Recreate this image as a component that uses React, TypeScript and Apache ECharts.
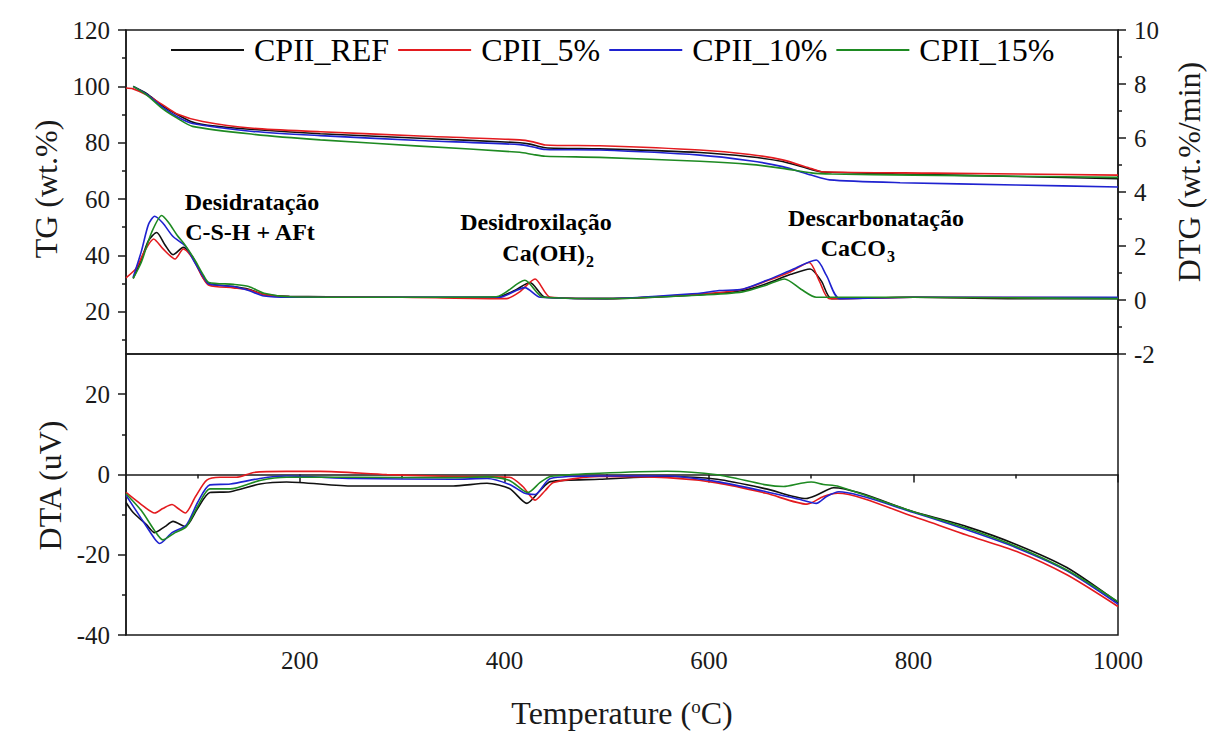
import React, { useEffect, useRef } from "react";
import * as echarts from "echarts";

const FONT = '"Liberation Serif", "Times New Roman", serif';

const seriesNames = ["CPII_REF", "CPII_5%", "CPII_10%", "CPII_15%"];
const seriesColors = ["#111111", "#e31b1f", "#1f22d0", "#1e8a22"];

// TG (wt.%) — [temperature °C, value]
const tgRef = [[37,100],[50,97.5],[66,93],[80,90],[95,87.3],[110,86.2],[154,84.7],[220,83.2],[317,81.6],[415,80],[425,79.5],[440,78.2],[493,77.8],[591,76.5],[640,75],[672,73.3],[700,70.5],[712,69.6],[800,68.8],[900,68.0],[1000,67.2]];
const tg5 = [[30,99.4],[37,99.1],[50,97],[66,93.4],[80,90.2],[105,87.5],[154,85.1],[220,83.9],[317,82.4],[415,81],[428,80.3],[440,79.2],[493,78.9],[591,77.4],[640,75.8],[672,73.9],[700,70.8],[710,69.7],[819,69.2],[1000,68.5]];
const tg10 = [[37,100],[50,97.2],[66,92.5],[80,89.2],[95,86.8],[154,84],[220,82.5],[317,80.8],[415,79.3],[428,78.5],[440,77.6],[493,77.4],[591,75.6],[640,73.6],[672,71.5],[700,68.5],[718,66.8],[787,65.8],[900,65],[1000,64.3]];
const tg15 = [[37,100],[50,97],[66,92],[80,88.7],[95,85.8],[154,83],[220,81],[317,78.8],[415,76.6],[428,75.8],[440,75.2],[493,74.8],[591,73.4],[640,72.3],[672,70.9],[700,69.3],[720,68.9],[800,68.5],[900,68.1],[1000,67.7]];

// DTG (wt.%/min)
const dtgRef = [[37,0.8],[45,1.5],[52,2.2],[60,2.5],[68,2.05],[76,1.68],[86,1.95],[95,1.6],[105,0.85],[111,0.6],[135,0.5],[150,0.4],[165,0.2],[190,0.14],[300,0.1],[392,0.1],[410,0.35],[425,0.65],[440,0.1],[500,0.05],[591,0.2],[633,0.35],[656,0.6],[680,0.95],[699,1.15],[710,0.7],[720,0.05],[800,0.1],[900,0.05],[1000,0.05]];
const dtg5 = [[30,0.82],[40,1.18],[48,1.8],[57,2.26],[66,1.9],[78,1.52],[86,1.89],[95,1.55],[105,0.84],[111,0.55],[135,0.45],[150,0.38],[165,0.2],[190,0.12],[300,0.1],[402,0.05],[415,0.3],[430,0.78],[445,0.1],[500,0.05],[591,0.22],[633,0.4],[656,0.7],[680,1.05],[698,1.39],[708,0.7],[718,0.05],[800,0.1],[1000,0.08]];
const dtg10 = [[37,0.84],[45,1.8],[52,2.8],[58,3.1],[66,2.85],[76,2.35],[88,2.0],[97,1.4],[106,0.84],[111,0.59],[135,0.5],[150,0.35],[165,0.15],[190,0.1],[300,0.1],[395,0.1],[420,0.46],[435,0.1],[500,0.05],[591,0.25],[610,0.35],[633,0.4],[656,0.72],[680,1.1],[705,1.48],[715,0.9],[728,0.05],[800,0.1],[1000,0.1]];
const dtg15 = [[37,0.8],[45,1.4],[55,2.5],[65,3.13],[72,2.85],[80,2.4],[88,2.02],[97,1.5],[106,0.9],[111,0.65],[135,0.58],[150,0.5],[165,0.25],[190,0.12],[300,0.1],[392,0.12],[420,0.73],[438,0.1],[500,0.05],[591,0.18],[633,0.3],[656,0.55],[674,0.78],[690,0.4],[705,0.1],[800,0.1],[1000,0.05]];

// DTA (uV)
const dtaRef = [[30,-7],[37,-9.5],[50,-12.5],[58,-14.5],[68,-13],[76,-11.7],[88,-13],[100,-8.5],[112,-4.5],[132,-4.3],[161,-2.4],[187,-1.9],[252,-2.9],[350,-2.9],[383,-2.2],[405,-3.5],[422,-7.2],[435,-4],[445,-1.8],[493,-1.2],[559,-0.5],[608,-1.2],[656,-3.6],[695,-6.0],[705,-5.2],[722,-3.3],[800,-9.3],[852,-13],[901,-17.5],[950,-23.2],[1000,-31.9]];
const dta5 = [[30,-4.5],[45,-7.5],[58,-9.6],[66,-8.5],[75,-7.5],[81,-8.5],[88,-9.6],[98,-5.5],[109,-1.4],[122,-0.7],[138,-0.7],[155,0.5],[187,0.76],[220,0.76],[285,-0.05],[350,-0.5],[405,-0.7],[418,-3],[430,-6.4],[440,-4],[448,-2],[493,-0.5],[559,-0.8],[608,-2.1],[656,-4.7],[696,-7.4],[712,-5.5],[726,-4.7],[800,-10.5],[852,-15.1],[901,-19.2],[950,-25],[1000,-32.9]];
const dta10 = [[30,-5.2],[45,-11],[58,-16],[63,-17.2],[75,-14.5],[89,-12.6],[100,-7],[112,-2.6],[132,-2.4],[161,-1.0],[187,-0.4],[252,-1.0],[350,-1.2],[383,-1.0],[405,-2.5],[420,-4.7],[430,-5.0],[445,-1],[493,-0.4],[559,-0.4],[608,-1.8],[656,-4.3],[690,-6.3],[705,-7.2],[715,-5.5],[727,-4.3],[800,-9.5],[852,-13.8],[901,-18.3],[950,-24],[1000,-32.3]];
const dta15 = [[30,-4.8],[45,-9],[58,-14],[66,-16.3],[78,-14.5],[89,-13],[100,-8],[112,-3.6],[132,-3.6],[161,-1.5],[187,-0.7],[252,-0.7],[350,-0.8],[383,-0.6],[405,-1.5],[423,-4.5],[435,-2],[445,-0.5],[493,0.3],[559,0.8],[608,-0.1],[656,-2.6],[673,-3.0],[690,-2.2],[700,-1.9],[712,-2.5],[727,-3.0],[800,-9.3],[852,-13.4],[901,-18],[950,-23.8],[1000,-31.7]];

const tgData = [tgRef, tg5, tg10, tg15];
const dtgData = [dtgRef, dtg5, dtg10, dtg15];
const dtaData = [dtaRef, dta5, dta10, dta15];

const xMajor = [200, 400, 600, 800, 1000];
const xMinor = [100, 300, 500, 700, 900];
const tgMajor = [20, 40, 60, 80, 100, 120];
const tgMinor = [10, 30, 50, 70, 90, 110];
const dtaMajor = [-40, -20, 0, 20];
const dtaMinor = [-30, -10, 10];

const AX = "#1a1a1a";
const plain = (v: number) => String(v);
const labelStyle = { color: AX, fontSize: 25, fontFamily: FONT, formatter: plain };
const nameStyle = { color: AX, fontSize: 32, fontFamily: FONT };

function minorAxis(gridIndex: number, position: string, min: number, max: number, values: number[]) {
  return {
    type: "value",
    gridIndex,
    position,
    min,
    max,
    axisLine: { show: false },
    axisLabel: { show: false },
    splitLine: { show: false },
    axisTick: { show: true, customValues: values, length: 4, lineStyle: { color: AX, width: 1.5 } },
  };
}

export default function App() {
  const ref = useRef<HTMLDivElement>(null);
  useEffect(() => {
    if (!ref.current) return;
    const chart = echarts.init(ref.current, null, { renderer: "svg" });
    const series: any[] = [];
    seriesNames.forEach((name, i) => {
      const common = {
        name,
        type: "line",
        showSymbol: false,
        symbol: "none",
        smooth: 0.25,
        lineStyle: { color: seriesColors[i], width: 1.6 },
        itemStyle: { color: seriesColors[i] },
      };
      series.push({ ...common, xAxisIndex: 0, yAxisIndex: 0, data: tgData[i] });
      series.push({ ...common, xAxisIndex: 0, yAxisIndex: 2, data: dtgData[i] });
      series.push({ ...common, xAxisIndex: 1, yAxisIndex: 3, data: dtaData[i] });
    });

    const boldText = (text: string, x: number, y: number, align = "center", size = 24) => ({
      type: "text",
      x,
      y,
      style: {
        text,
        fill: "#000",
        font: `bold ${size}px ${FONT}`,
        align,
        verticalAlign: "middle",
      },
    });

    chart.setOption({
      animation: false,
      backgroundColor: "#ffffff",
      legend: {
        data: seriesNames,
        left: 171,
        top: 34,
        icon: "rect",
        itemWidth: 73,
        itemHeight: 2,
        itemGap: 9,
        padding: 0,
        textStyle: { color: "#000", fontSize: 32, fontFamily: FONT, padding: [0, 0, 0, 5] },
      },
      grid: [
        { left: 126, top: 30, width: 992, height: 324, show: true, borderColor: AX, borderWidth: 1.5, containLabel: false },
        { left: 126, top: 354, width: 992, height: 281, show: true, borderColor: AX, borderWidth: 1.5, containLabel: false },
      ],
      xAxis: [
        {
          type: "value", gridIndex: 0, min: 30, max: 1000,
          axisLine: { show: false }, axisTick: { show: false }, axisLabel: { show: false }, splitLine: { show: false },
        },
        {
          type: "value", gridIndex: 1, position: "bottom", min: 30, max: 1000,
          axisLine: { show: true, lineStyle: { color: AX, width: 1.5 } },
          axisTick: { show: true, customValues: xMajor, length: 8, lineStyle: { color: AX, width: 1.5 } },
          axisLabel: { customValues: xMajor, margin: 13, ...labelStyle },
          splitLine: { show: false },
          name: "Temperature ({sup|o}C)",
          nameLocation: "middle",
          nameGap: 62,
          nameTextStyle: { ...nameStyle, rich: { sup: { fontSize: 19, fontFamily: FONT, color: AX, verticalAlign: "top" } } },
        },
        minorAxis(1, "bottom", 30, 1000, xMinor),
      ],
      yAxis: [
        {
          type: "value", gridIndex: 0, position: "left", min: 5, max: 120,
          axisLine: { show: true, lineStyle: { color: AX, width: 1.5 } },
          axisTick: { show: true, customValues: tgMajor, length: 8, lineStyle: { color: AX, width: 1.5 } },
          axisLabel: { customValues: tgMajor, margin: 16, ...labelStyle },
          splitLine: { show: false },
          name: "TG (wt.%)", nameLocation: "middle", nameRotate: 90, nameGap: 57,
          nameTextStyle: { ...nameStyle, padding: [0, 0, 0, 6] },
        },
        minorAxis(0, "left", 5, 120, tgMinor),
        {
          type: "value", gridIndex: 0, position: "right", min: -2, max: 10, interval: 2,
          axisLine: { show: true, lineStyle: { color: AX, width: 1.5 } },
          axisTick: { show: true, length: 8, lineStyle: { color: AX, width: 1.5 } },
          minorTick: { show: true, splitNumber: 2, length: 4, lineStyle: { color: AX, width: 1.5 } },
          axisLabel: { margin: 16, ...labelStyle },
          splitLine: { show: false },
          name: "DTG (wt.%/min)", nameLocation: "middle", nameRotate: 90, nameGap: 55,
          nameTextStyle: { ...nameStyle, padding: [0, 0, 0, 40] },
        },
        {
          type: "value", gridIndex: 1, position: "left", min: -40, max: 30,
          axisLine: { show: true, lineStyle: { color: AX, width: 1.5 } },
          axisTick: { show: true, customValues: dtaMajor, length: 8, lineStyle: { color: AX, width: 1.5 } },
          axisLabel: { customValues: dtaMajor, margin: 16, ...labelStyle },
          splitLine: { show: false },
          name: "DTA (uV)", nameLocation: "middle", nameRotate: 90, nameGap: 51,
          nameTextStyle: { ...nameStyle, padding: [0, 0, 0, 18] },
        },
        minorAxis(1, "left", -40, 30, dtaMinor),
      ],
      graphic: [
        boldText("Desidratação", 252, 202),
        boldText("C-S-H + AFt", 250, 232),
        boldText("Desidroxilação", 536, 222),
        boldText("Ca(OH)", 585, 253, "right"),
        boldText("2", 586, 261, "left", 16),
        boldText("Descarbonatação", 876, 218),
        boldText("CaCO", 886, 248, "right"),
        boldText("3", 887, 256, "left", 16),
      ],
      series,
    });
    return () => chart.dispose();
  }, []);
  return <div ref={ref} style={{ position: "fixed", left: 0, top: 0, width: 1214, height: 742 }} />;
}
